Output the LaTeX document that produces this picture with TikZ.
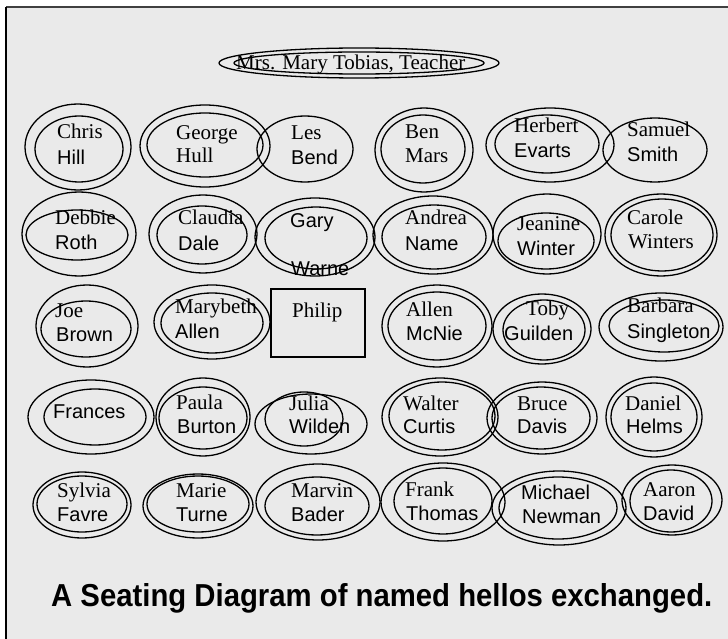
\documentclass[tikz,border=0pt]{standalone}
\usepackage{fontspec}
\usepackage{graphicx}
\setmainfont{Liberation Serif}
\newfontfamily\namerm{Liberation Serif}
\newfontfamily\namesf{Liberation Sans}
\newfontfamily\titlesf{Liberation Sans}
\newcommand\seatrm{\namerm\fontsize{21}{24}\selectfont}
\newcommand\seatsf{\namesf\fontsize{20}{24}\selectfont}
\definecolor{deskgray}{RGB}{234,234,234}
\definecolor{framegray}{RGB}{64,64,64}

\begin{document}
\begin{tikzpicture}[x=1pt, y=-1pt,
    seat/.style={line width=1.3pt},
    seatname/.style={anchor=base west, inner sep=0pt}]
    \fill[white] (0,0) rectangle (728,639);
    \useasboundingbox (0,0) rectangle (728,639);
    \fill[deskgray] (6,7) rectangle (728,639);
    \draw[framegray, line width=2] (6,7) -- (728,7);
    \draw[line width=1.5] (6,7) -- (6,639);

    \draw[seat] (359,63) ellipse [x radius=140, y radius=15];
    \draw[seat] (359,63) ellipse [x radius=125, y radius=11];
    \node[seatname] (teacher) at (236,70) {\seatrm Mrs. Mary Tobias, Teacher};

    \foreach \id/\ox/\oy/\orx/\ory/\ix/\iy/\irx/\iry/\tx/\ux/\ba/\bb/\ta/\tb in {
        chris/78/147/53/43/79/149/44/33/57/57/139/165/\seatrm Chris/\seatsf Hill,
        george/205/146/65/41/205/145/58/32/176/176/140/163/\seatrm George/\seatrm Hull,
        ben/424/150/49/42/423/149/42/34/405/405/139/163/\seatrm Ben/\seatrm Mars,
        herbert/550/145/64/37/547/144/52/29/514/514/133/158/\seatrm Herbert/\seatsf Evarts,
        debbie/79/234/57/42/77/235/51/25/55/55/225/249/\seatrm Debbie/\seatsf Roth,
        claudia/203/234/54/39/202/235/45/29/178/178/225/250/\seatrm Claudia/\seatsf Dale,
        gary/315/237/60/39/316/238/51/31/290/291/228/275/\seatsf Gary/\seatsf Warne,
        andrea/433/235/60/39/434/237/52/32/405/405/225/250/\seatrm Andrea/\seatsf Name,
        jeanine/547/234/54/40/546/241/48/28/517/517/230/255/\seatrm Jeanine/\seatsf Winter,
        carole/661/235/56/41/662/235/51/36/627/628/225/248/\seatrm Carole/\seatrm Winters,
        joe/87/326/51/41/86/329/45/28/55/56/317/341/\seatrm Joe/\seatsf Brown,
        marybeth/212/322/58/37/212/323/51/30/175/175/313/338/\seatrm Marybeth/\seatsf Allen,
        allen/437/326/55/41/437/326/49/34/406/406/316/340/\seatrm Allen/\seatsf McNie,
        toby/542/329/49/35/544/330/41/30/526/504/315/340/\seatrm Toby/\seatsf Guilden,
        barbara/661/327/62/34/664/326/55/26/627/627/312/338/\seatrm Barbara/\seatsf Singleton,
        frances/91/417/63/37/95/417/51/28/53/53/418/442/\seatsf Frances/{},
        paula/203/417/47/39/203/418/44/31/176/177/409/433/\seatrm Paula/\seatsf Burton,
        julia/311/424/56/30/304/419/39/27/289/289/410/433/\seatrm Julia/\seatsf Wilden,
        walter/440/417/58/39/442/416/53/34/403/403/410/433/\seatrm Walter/\seatsf Curtis,
        bruce/542/418/55/36/541/418/49/31/517/517/410/433/\seatrm Bruce/\seatsf Davis,
        daniel/654/417/48/40/654/417/43/34/625/626/410/433/\seatrm Daniel/\seatsf Helms,
        sylvia/82/505/49/33/82/504/45/28/57/57/497/521/\seatrm Sylvia/\seatsf Favre,
        marie/198/506/55/32/198/504/51/28/176/176/497/521/\seatrm Marie/\seatsf Turne,
        marvin/318/502/62/38/317/506/52/29/291/291/497/521/\seatrm Marvin/\seatsf Bader,
        frank/443/502/62/39/443/501/49/33/405/406/496/520/\seatrm Frank/\seatsf Thomas,
        michael/559/508/67/37/558/508/59/31/521/522/499/523/\seatsf Michael/\seatsf Newman,
        aaron/672/500/50/35/671/501/41/31/643/643/496/520/\seatrm Aaron/\seatsf David} {
        \draw[seat] (\ox,\oy) ellipse [x radius=\orx, y radius=\ory];
        \draw[seat] (\ix,\iy) ellipse [x radius=\irx, y radius=\iry];
        \node[seatname] (\id-first) at (\tx,\ba) {\ta};
        \node[seatname] (\id-last) at (\ux,\bb) {\tb};
    }

    \foreach \id/\ox/\oy/\orx/\ory/\tx/\ba/\bb/\ta/\tb in {
        les/305/149/48/33/291/140/165/\seatrm Les/\seatsf Bend,
        samuel/655/150/52/32/627/137/162/\seatrm Samuel/\seatsf Smith} {
        \draw[seat] (\ox,\oy) ellipse [x radius=\orx, y radius=\ory];
        \node[seatname] (\id-first) at (\tx,\ba) {\ta};
        \node[seatname] (\id-last) at (\tx,\bb) {\tb};
    }

    \node[draw, line width=1.8pt, inner sep=0pt, minimum width=94pt, minimum height=68pt,
        anchor=north west] (philip-desk) at (270,288) {};
    \node[seatname] (philip) at (292,317) {\seatrm Philip};

    \node[anchor=base west, inner sep=0pt] (caption) at (51,606)
        {\resizebox{661pt}{23pt}{\titlesf\bfseries A Seating Diagram of named hellos exchanged.}};
\end{tikzpicture}
\end{document}
